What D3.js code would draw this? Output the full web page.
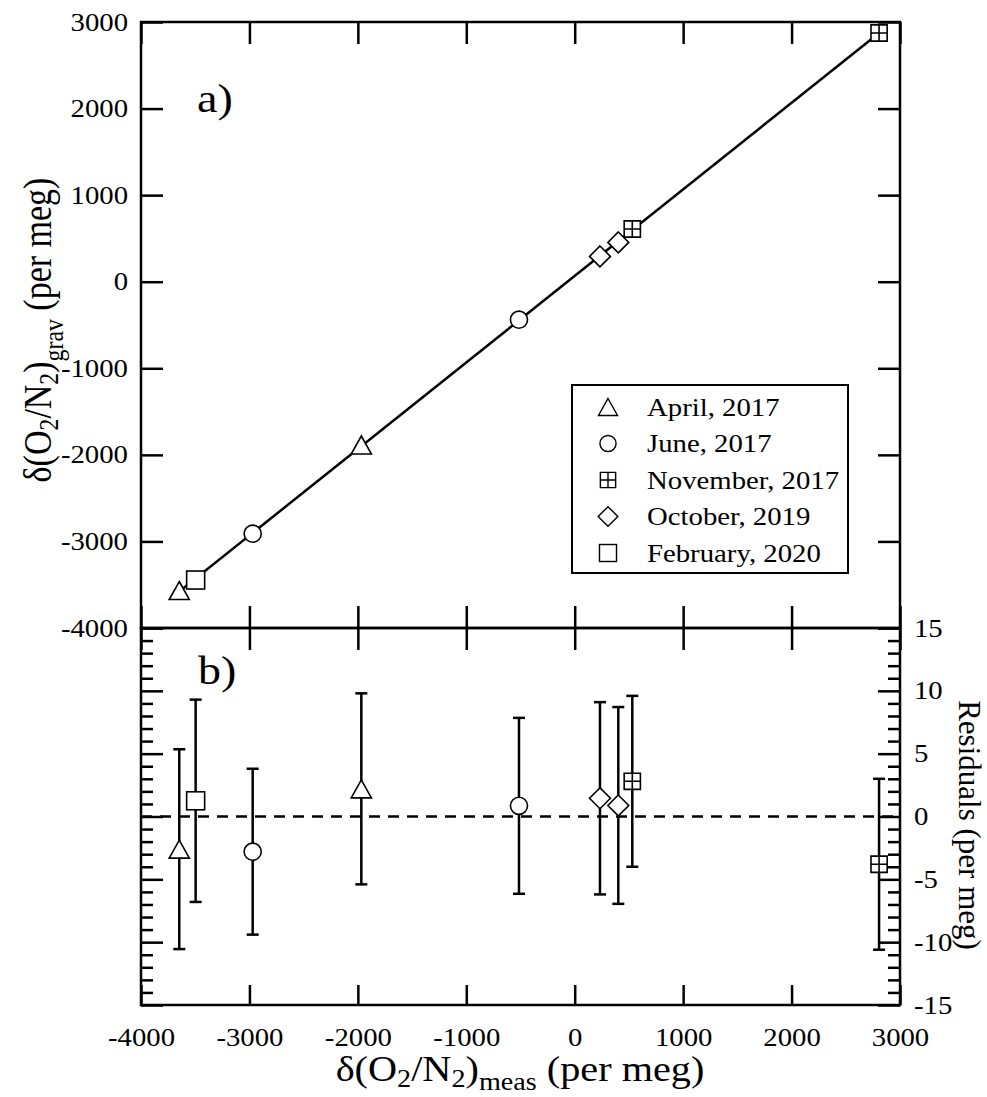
<!DOCTYPE html>
<html>
<head>
<meta charset="utf-8">
<script src="https://cdn.jsdelivr.net/npm/d3@7"></script>
<style>
  html, body { margin: 0; padding: 0; background: #fff; }
  svg { display: block; }
  text { font-family: "Liberation Serif", "Times New Roman", serif; fill: #000; }
</style>
</head>
<body>
<svg id="chart" width="987" height="1097"></svg>
<script>
// ---------- DATA ----------
const seriesNames = ["April, 2017", "June, 2017", "November, 2017", "October, 2019", "February, 2020"];
const seriesSymbols = ["triangle", "circle", "plussquare", "diamond", "square"];

const aprilMeas = [-3647, -1968];
const aprilGrav = [-3567, -1886];
const aprilResid = [-2.6, 2.2];
const aprilErr = [7.95, 7.6];

const juneMeas = [-2970, -514];
const juneGrav = [-2911, -439];
const juneResid = [-2.8, 0.85];
const juneErr = [6.6, 7.0];

const novMeas = [531, 2807];
const novGrav = [609, 2873];
const novResid = [2.8, -3.8];
const novErr = [6.8, 6.8];

const octMeas = [233, 402];
const octGrav = [292, 454];
const octResid = [1.45, 0.88];
const octErr = [7.65, 7.83];

const febMeas = [-3496];
const febGrav = [-3446];
const febResid = [1.25];
const febErr = [8.05];

const fitMeas = [-3647, 2807];
const fitGrav = [-3578, 2873];

const xTicks = [-4000, -3000, -2000, -1000, 0, 1000, 2000, 3000];
const yTopTicks = [-4000, -3000, -2000, -1000, 0, 1000, 2000, 3000];
const yBotMajor = [-15, -10, -5, 0, 5, 10, 15];
const yBotMinor = d3.range(-15, 16, 1).filter(v => v % 5 !== 0);

// ---------- LAYOUT ----------
const L = 141, R = 900, T = 22, MID = 628, B = 1005;
const SX = 1.15; // horizontal glyph stretch
const FONT = 25;
const fmt = d => String(d); // plain hyphen-minus as in the reference

const svg = d3.select("#chart");
svg.append("rect").attr("width", 987).attr("height", 1097).attr("fill", "#fff");

const x = d3.scaleLinear().domain([-4000, 3000]).range([L, R]);
const yTop = d3.scaleLinear().domain([-4000, 3000]).range([MID, T]);
const yBot = d3.scaleLinear().domain([-15, 15]).range([B, MID]);

const series = [
  {name: seriesNames[0], sym: seriesSymbols[0], meas: aprilMeas, grav: aprilGrav, resid: aprilResid, err: aprilErr},
  {name: seriesNames[1], sym: seriesSymbols[1], meas: juneMeas, grav: juneGrav, resid: juneResid, err: juneErr},
  {name: seriesNames[2], sym: seriesSymbols[2], meas: novMeas, grav: novGrav, resid: novResid, err: novErr},
  {name: seriesNames[3], sym: seriesSymbols[3], meas: octMeas, grav: octGrav, resid: octResid, err: octErr},
  {name: seriesNames[4], sym: seriesSymbols[4], meas: febMeas, grav: febGrav, resid: febResid, err: febErr}
];

function stretchText(sel) {
  sel.each(function() {
    const t = d3.select(this);
    const xx = +(t.attr("x") || 0);
    t.attr("x", 0).attr("transform", `translate(${xx},0) scale(${SX},1)`);
  });
}

function styleAxis(g) {
  g.select(".domain").remove();
  g.selectAll(".tick line").attr("stroke", "#000").attr("stroke-width", 2.5);
  g.selectAll("text").attr("font-size", FONT).attr("font-family", "'Liberation Serif', 'Times New Roman', serif").attr("fill", "#000");
}

// ---------- TOP PANEL AXES ----------
const gTop = svg.append("g");
gTop.append("g").attr("transform", `translate(${L},0)`)
  .call(d3.axisLeft(yTop).tickValues(yTopTicks).tickSizeInner(-22).tickSizeOuter(0).tickPadding(13).tickFormat(fmt))
  .call(styleAxis).call(g => stretchText(g.selectAll("text")));
gTop.append("g").attr("transform", `translate(${R},0)`)
  .call(d3.axisRight(yTop).tickValues(yTopTicks).tickSizeInner(-22).tickSizeOuter(0).tickFormat(""))
  .call(styleAxis);
gTop.append("g").attr("transform", `translate(0,${T})`)
  .call(d3.axisTop(x).tickValues(xTicks).tickSizeInner(-22).tickSizeOuter(0).tickFormat(""))
  .call(styleAxis);
gTop.append("g").attr("transform", `translate(0,${MID})`)
  .call(d3.axisBottom(x).tickValues(xTicks).tickSizeInner(-22).tickSizeOuter(0).tickFormat(""))
  .call(styleAxis);

// ---------- BOTTOM PANEL AXES ----------
const gBot = svg.append("g");
gBot.append("g").attr("transform", `translate(0,${MID})`)
  .call(d3.axisTop(x).tickValues(xTicks).tickSizeInner(-22).tickSizeOuter(0).tickFormat(""))
  .call(styleAxis);
gBot.append("g").attr("transform", `translate(0,${B})`)
  .call(d3.axisBottom(x).tickValues(xTicks).tickSizeInner(-20).tickSizeOuter(0).tickPadding(23).tickFormat(fmt))
  .call(styleAxis).call(g => stretchText(g.selectAll("text")));
gBot.append("g").attr("transform", `translate(${L},0)`)
  .call(d3.axisLeft(yBot).tickValues(yBotMajor).tickSizeInner(-22).tickSizeOuter(0).tickFormat(""))
  .call(styleAxis);
gBot.append("g").attr("transform", `translate(${L},0)`)
  .call(d3.axisLeft(yBot).tickValues(yBotMinor).tickSizeInner(-12).tickSizeOuter(0).tickFormat(""))
  .call(styleAxis);
gBot.append("g").attr("transform", `translate(${R},0)`)
  .call(d3.axisRight(yBot).tickValues(yBotMajor).tickSizeInner(-22).tickSizeOuter(0).tickPadding(14).tickFormat(fmt))
  .call(styleAxis).call(g => stretchText(g.selectAll("text")));
gBot.append("g").attr("transform", `translate(${R},0)`)
  .call(d3.axisRight(yBot).tickValues(yBotMinor).tickSizeInner(-12).tickSizeOuter(0).tickFormat(""))
  .call(styleAxis);

// frames
svg.append("rect").attr("x", L).attr("y", T).attr("width", R - L).attr("height", MID - T)
  .attr("fill", "none").attr("stroke", "#000").attr("stroke-width", 2.5);
svg.append("rect").attr("x", L).attr("y", MID).attr("width", R - L).attr("height", B - MID)
  .attr("fill", "none").attr("stroke", "#000").attr("stroke-width", 2.5);

// ---------- SYMBOLS ----------
function drawSymbol(g, type, cx, cy, s, sw) {
  const h = s / 2;
  let el;
  if (type === "circle") {
    el = g.append("circle").attr("cx", cx).attr("cy", cy).attr("r", h * 0.95);
  } else if (type === "triangle") {
    const w = s * 1.12, ht = s;
    el = g.append("path").attr("d", `M${cx},${cy - ht / 2}L${cx + w / 2},${cy + ht / 2}L${cx - w / 2},${cy + ht / 2}Z`);
  } else if (type === "square") {
    el = g.append("rect").attr("x", cx - h).attr("y", cy - h).attr("width", s).attr("height", s);
  } else if (type === "diamond") {
    const d = s * 0.58;
    el = g.append("path").attr("d", `M${cx},${cy - d}L${cx + d},${cy}L${cx},${cy + d}L${cx - d},${cy}Z`);
  } else if (type === "plussquare") {
    const q = s * 0.45;
    el = g.append("path").attr("d", `M${cx - q},${cy - q}H${cx + q}V${cy + q}H${cx - q}Z M${cx},${cy - q}V${cy + q} M${cx - q},${cy}H${cx + q}`);
  }
  el.attr("fill", "#fff").attr("stroke", "#000").attr("stroke-width", sw);
}

// ---------- TOP PANEL MARKS ----------
const gTopMarks = svg.append("g");
gTopMarks.append("line")
  .attr("x1", x(fitMeas[0])).attr("y1", yTop(fitGrav[0]))
  .attr("x2", x(fitMeas[1])).attr("y2", yTop(fitGrav[1]))
  .attr("stroke", "#000").attr("stroke-width", 2.5);
series.forEach(s => {
  s.meas.forEach((m, i) => drawSymbol(gTopMarks, s.sym, x(m), yTop(s.grav[i]), 18, 1.6));
});

// ---------- BOTTOM PANEL MARKS ----------
const gBotMarks = svg.append("g");
gBotMarks.append("line")
  .attr("x1", x(-4000)).attr("x2", x(3000))
  .attr("y1", yBot(0)).attr("y2", yBot(0))
  .attr("stroke", "#000").attr("stroke-width", 2.5).attr("stroke-dasharray", "11,8");
series.forEach(s => {
  s.meas.forEach((m, i) => {
    const cx = x(m), lo = yBot(s.resid[i] - s.err[i]), hi = yBot(s.resid[i] + s.err[i]);
    gBotMarks.append("line").attr("x1", cx).attr("x2", cx).attr("y1", lo).attr("y2", hi)
      .attr("stroke", "#000").attr("stroke-width", 2.5);
    [lo, hi].forEach(yy => gBotMarks.append("line").attr("x1", cx - 6).attr("x2", cx + 6).attr("y1", yy).attr("y2", yy)
      .attr("stroke", "#000").attr("stroke-width", 2.5));
  });
});
series.forEach(s => {
  s.meas.forEach((m, i) => drawSymbol(gBotMarks, s.sym, x(m), yBot(s.resid[i]), 18, 1.6));
});

// ---------- LEGEND ----------
const lg = svg.append("g");
lg.append("rect").attr("x", 572).attr("y", 385).attr("width", 276).attr("height", 188)
  .attr("fill", "#fff").attr("stroke", "#000").attr("stroke-width", 2);
series.forEach((s, i) => {
  const cy = 407 + i * 36.5;
  drawSymbol(lg, s.sym, 608, cy, 17, 1.4);
  lg.append("text").attr("transform", `translate(647,${cy}) scale(${SX},1)`)
    .attr("dy", "0.35em").attr("font-size", FONT).text(s.name);
});

// ---------- LABELS ----------
function richText(g, tx, ty, rot, size, parts, sx) {
  const t = g.append("text")
    .attr("transform", `translate(${tx},${ty}) scale(${sx},1) rotate(${rot})`)
    .attr("text-anchor", "middle").attr("font-size", size);
  let cur = 0;
  parts.forEach(p => {
    const off = p.sub || 0;
    const ts = t.append("tspan").text(p.t);
    if (p.sub) ts.attr("font-size", size * 0.7);
    const dy = off - cur;
    if (dy !== 0) ts.attr("dy", dy);
    cur = off;
  });
  return t;
}

richText(svg, 520, 1081, 0, 35, [
  {t: "δ(O"}, {t: "2", sub: 6}, {t: "/N"}, {t: "2", sub: 6}, {t: ")"}, {t: "meas", sub: 9}, {t: " (per meg)"}
], SX);
richText(svg, 51, 330, -90, 34, [
  {t: "δ(O"}, {t: "2", sub: 6}, {t: "/N"}, {t: "2", sub: 6}, {t: ")"}, {t: "grav", sub: 10}, {t: " (per meg)"}
], SX);
richText(svg, 959, 825, 90, 31, [{t: "Residuals (per meg)"}], 1.0);

svg.append("text").attr("transform", `translate(197,112) scale(${SX},1)`).attr("font-size", 40).text("a)");
svg.append("text").attr("transform", `translate(198,684) scale(${SX},1)`).attr("font-size", 40).text("b)");
</script>
</body>
</html>
